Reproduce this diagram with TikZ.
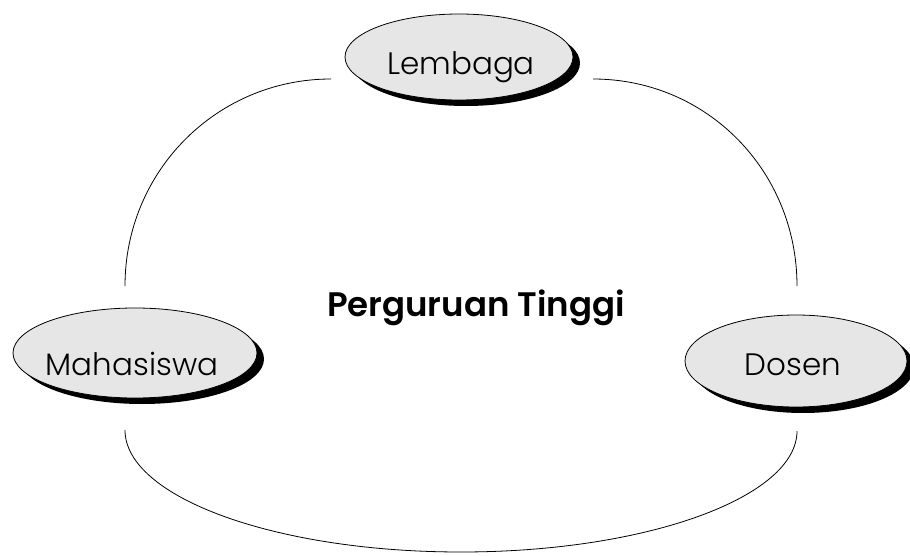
\documentclass[tikz,border=0pt]{standalone}
\usepackage{fontspec}
\setmainfont{Poppins}[UprightFont=* Light, BoldFont=* SemiBold]
\usetikzlibrary{shapes.geometric,shadows}
\definecolor{blobfill}{RGB}{230,230,230}
\tikzset{
  blob/.style={ellipse, draw=black, line width=0.8pt, fill=blobfill, inner sep=0pt,
    drop shadow={shadow xshift=7pt, shadow yshift=-6pt, opacity=1, fill=black}},
  lbl/.style={font=\fontsize{31}{31}\selectfont, inner sep=0pt, anchor=base},
  ttl/.style={font=\fontsize{34}{34}\selectfont\bfseries, inner sep=0pt, anchor=base},
  link/.style={draw=black, line width=0.8pt}
}
\begin{document}
\begin{tikzpicture}[x=1pt, y=-1pt]
  \useasboundingbox (0,0) rectangle (910,556);

  % the three parties, each as a shadowed ellipse with its caption
  \node[blob, minimum width=228pt, minimum height=86pt] (lembaga) at (459,57) {};
  \node[lbl] (lembagaTxt) at (461,75) {Lembaga};

  \node[blob, minimum width=244pt, minimum height=90pt] (mahasiswa) at (135,353) {};
  \node[lbl] (mahasiswaTxt) at (132,375) {Mahasiswa};

  \node[blob, minimum width=222pt, minimum height=92pt] (dosen) at (796,361) {};
  \node[lbl] (dosenTxt) at (793,375) {Dosen};

  % central title
  \node[ttl] (pt) at (476,316) {Perguruan Tinggi};

  % loose ends of the surrounding ring
  \coordinate (mTop) at (125,286);
  \coordinate (lLeft) at (331,79);
  \coordinate (lRight) at (593,79);
  \coordinate (dTop) at (797,286);
  \coordinate (mBot) at (125,430);
  \coordinate (dBot) at (797,431);
  \coordinate (ringBot) at (461,552);

  \draw[link] (mTop) .. controls (125,171) and (217,79) .. (lLeft);
  \draw[link] (lRight) .. controls (707,79) and (797,171) .. (dTop);
  \draw[link] (mBot) .. controls (125,497) and (275,552) .. (ringBot)
              .. controls (647,552) and (797,497) .. (dBot);
\end{tikzpicture}
\end{document}
